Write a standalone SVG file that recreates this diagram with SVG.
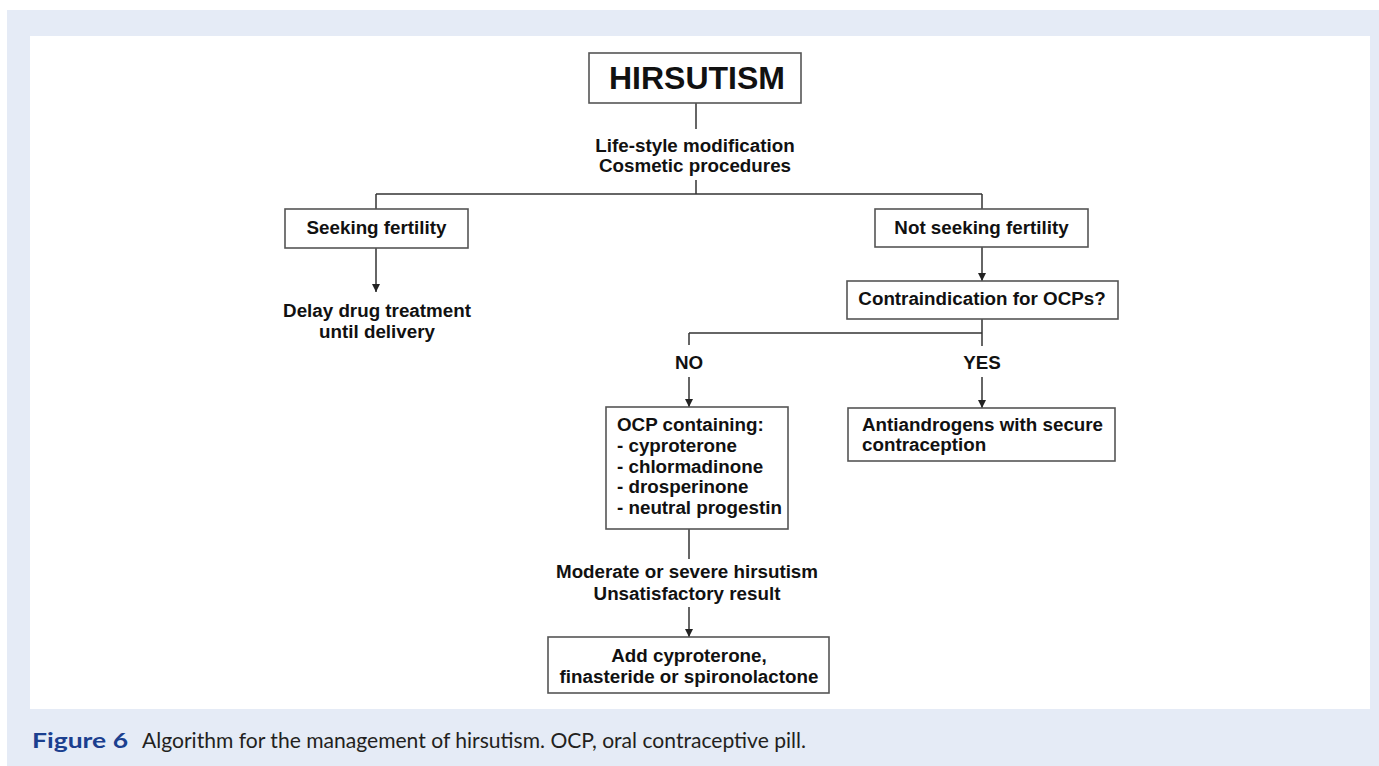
<svg xmlns="http://www.w3.org/2000/svg" width="1379" height="766" viewBox="0 0 1379 766">
<style>
.box{fill:#fff;stroke:#555;stroke-width:1.6}
.t{font-family:"Liberation Sans",Arial,sans-serif;font-weight:bold;font-size:18.8px;fill:#111}
.c{text-anchor:middle}
.ln{fill:none;stroke:#333;stroke-width:1.5}
</style>
<defs>
<marker id="ah" markerWidth="10" markerHeight="10" refX="8" refY="4" orient="auto" markerUnits="userSpaceOnUse">
<path d="M0,0 L8,4 L0,8 Z" fill="#222"/>
</marker>
</defs>
<rect x="0" y="0" width="1379" height="766" fill="#fff"/>
<rect x="7" y="10" width="1372" height="756" fill="#e5ebf6"/>
<rect x="30" y="36" width="1340" height="673" fill="#fff"/>

<g id="connectors">
<path class="ln" d="M696,103 V129"/>
<path class="ln" d="M696,180 V194"/>
<path class="ln" d="M376,194 H982"/>
<path class="ln" d="M376,194 V209"/>
<path class="ln" d="M982,194 V209"/>
<path class="ln" d="M376,248 V292" marker-end="url(#ah)"/>
<path class="ln" d="M982,247 V281" marker-end="url(#ah)"/>
<path class="ln" d="M982,319 V346"/>
<path class="ln" d="M689,333 H982"/>
<path class="ln" d="M689,333 V345"/>
<path class="ln" d="M689,377 V407" marker-end="url(#ah)"/>
<path class="ln" d="M982,377 V408" marker-end="url(#ah)"/>
<path class="ln" d="M689,529 V559"/>
<path class="ln" d="M689,607 V637" marker-end="url(#ah)"/>
</g>

<g id="hirsutism">
<rect class="box" x="589" y="53" width="212" height="50"/>
<text class="t c" x="697" y="89" style="font-size:32px">HIRSUTISM</text>
</g>
<g id="lifestyle">
<text class="t c" x="695" y="152">Life-style modification</text>
<text class="t c" x="695" y="172">Cosmetic procedures</text>
</g>
<g id="seeking">
<rect class="box" x="285" y="209" width="183" height="39"/>
<text class="t c" x="376.5" y="234">Seeking fertility</text>
</g>
<g id="delay">
<text class="t c" x="377" y="317">Delay drug treatment</text>
<text class="t c" x="377" y="338">until delivery</text>
</g>
<g id="notseeking">
<rect class="box" x="875" y="209" width="213" height="38"/>
<text class="t c" x="981.5" y="234">Not seeking fertility</text>
</g>
<g id="contra">
<rect class="box" x="847" y="281" width="271" height="38"/>
<text class="t c" x="982" y="305">Contraindication for OCPs?</text>
</g>
<g id="no-label">
<text class="t c" x="689" y="369">NO</text>
</g>
<g id="yes-label">
<text class="t c" x="982" y="369">YES</text>
</g>
<g id="ocp">
<rect class="box" x="606" y="407" width="182" height="122"/>
<text class="t" x="617" y="431">OCP containing:</text>
<text class="t" x="617" y="452">- cyproterone</text>
<text class="t" x="617" y="473">- chlormadinone</text>
<text class="t" x="617" y="493">- drosperinone</text>
<text class="t" x="617" y="514">- neutral progestin</text>
</g>
<g id="antiandrogens">
<rect class="box" x="848" y="408" width="267" height="53"/>
<text class="t" x="862" y="431">Antiandrogens with secure</text>
<text class="t" x="862" y="451">contraception</text>
</g>
<g id="moderate">
<text class="t c" x="687" y="578">Moderate or severe hirsutism</text>
<text class="t c" x="687" y="600">Unsatisfactory result</text>
</g>
<g id="add">
<rect class="box" x="548" y="637" width="281" height="56"/>
<text class="t c" x="689" y="662">Add cyproterone,</text>
<text class="t c" x="689" y="683">finasteride or spironolactone</text>
</g>

<g id="caption">
<text x="32" y="748" textLength="96" lengthAdjust="spacingAndGlyphs" style="font-family:Lato,'Open Sans',sans-serif;font-weight:bold;font-size:21px;fill:#1b3f8f">Figure 6</text>
<text x="142" y="748" textLength="664" lengthAdjust="spacingAndGlyphs" style="font-family:Lato,'Open Sans',sans-serif;font-size:21px;fill:#231f20">Algorithm for the management of hirsutism. OCP, oral contraceptive pill.</text>
</g>
</svg>
